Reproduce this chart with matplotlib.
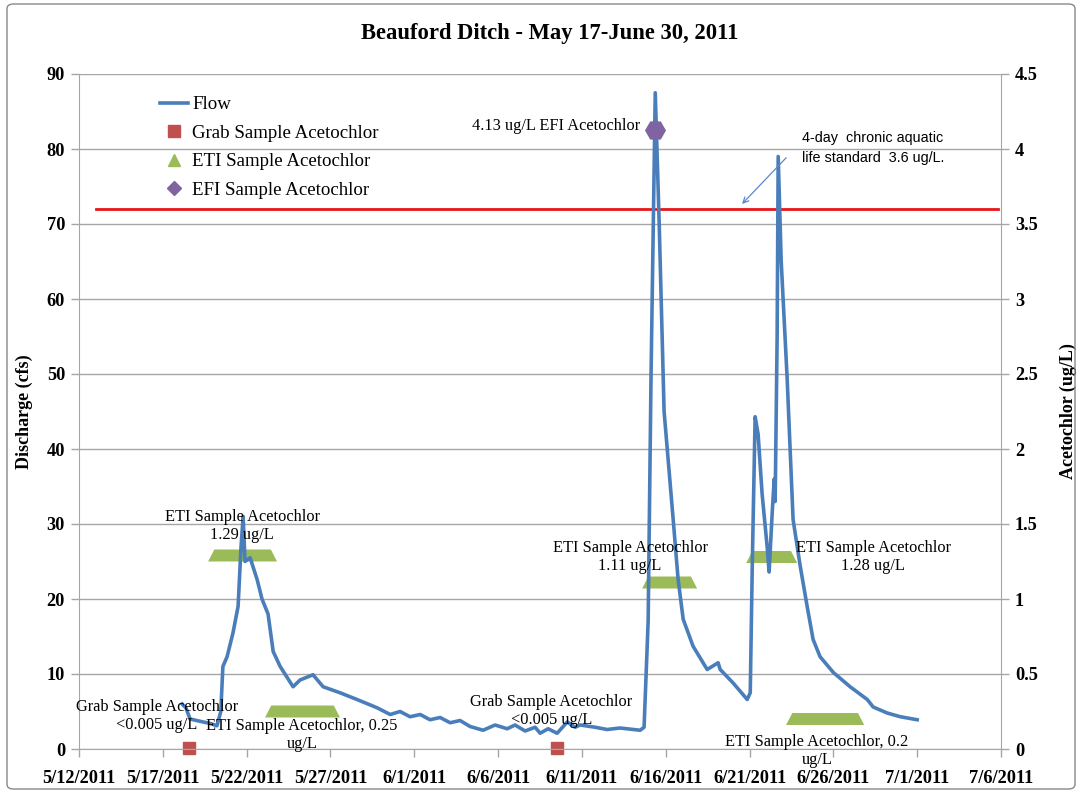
import pandas as pd
import matplotlib
matplotlib.use("Agg")
import matplotlib.pyplot as plt
from matplotlib.patches import Polygon, FancyBboxPatch
from matplotlib.lines import Line2D

plt.rcParams['font.family'] = ['Liberation Serif', 'DejaVu Serif']

# flow record (cfs)
flow_time = ["2011-05-18 03:30", "2011-05-18 09:00", "2011-05-18 15:00", "2011-05-19 05:00",
             "2011-05-19 20:00", "2011-05-20 05:30", "2011-05-20 11:00", "2011-05-20 14:00",
             "2011-05-20 20:00", "2011-05-21 04:30", "2011-05-21 11:45", "2011-05-21 16:00",
             "2011-05-21 19:00", "2011-05-21 21:40", "2011-05-22 05:00", "2011-05-22 15:00",
             "2011-05-22 22:00", "2011-05-23 06:40", "2011-05-23 14:00", "2011-05-24 00:00",
             "2011-05-24 18:30", "2011-05-25 04:30", "2011-05-25 23:00", "2011-05-26 13:30",
             "2011-05-27 13:40", "2011-05-28 14:00", "2011-05-29 18:40", "2011-05-30 13:30",
             "2011-05-31 03:40", "2011-05-31 18:00", "2011-06-01 08:30", "2011-06-01 22:35",
             "2011-06-02 13:00", "2011-06-03 03:20", "2011-06-03 17:30", "2011-06-04 07:55",
             "2011-06-05 02:30", "2011-06-05 19:40", "2011-06-06 13:00", "2011-06-07 00:15",
             "2011-06-07 14:40", "2011-06-08 05:00", "2011-06-08 12:15", "2011-06-08 23:35",
             "2011-06-09 12:30", "2011-06-10 03:00", "2011-06-10 14:10", "2011-06-10 21:30",
             "2011-06-11 19:00", "2011-06-12 12:00", "2011-06-13 06:40", "2011-06-14 11:20",
             "2011-06-14 17:00", "2011-06-14 22:50", "2011-06-15 03:00", "2011-06-15 09:00",
             "2011-06-15 14:40", "2011-06-15 21:40", "2011-06-16 10:40", "2011-06-16 17:45",
             "2011-06-17 01:00", "2011-06-17 15:10", "2011-06-18 11:20", "2011-06-19 03:00",
             "2011-06-19 06:00", "2011-06-20 00:30", "2011-06-20 20:40", "2011-06-21 01:00",
             "2011-06-21 04:00", "2011-06-21 08:00", "2011-06-21 12:15", "2011-06-21 18:00",
             "2011-06-22 01:10", "2011-06-22 04:00", "2011-06-22 08:30", "2011-06-22 11:20",
             "2011-06-22 12:40", "2011-06-22 15:30", "2011-06-22 17:00", "2011-06-22 21:20",
             "2011-06-23 05:50", "2011-06-23 14:20", "2011-06-24 00:30", "2011-06-24 10:30",
             "2011-06-24 19:00", "2011-06-25 05:00", "2011-06-26 00:00", "2011-06-27 00:00",
             "2011-06-28 00:30", "2011-06-28 09:00", "2011-06-29 05:00", "2011-06-30 00:00",
             "2011-07-01 00:00"]
flow_cfs = [6.0, 5.5, 4.0, 3.7,
            3.4, 3.1, 5.0, 11.0,
            12.3, 15.5, 19.0, 27.0,
            31.0, 25.0, 25.5, 22.6,
            20.0, 18.0, 13.0, 11.0,
            8.3, 9.2, 9.9, 8.3,
            7.5, 6.6, 5.5, 4.6,
            5.0, 4.3, 4.6, 3.9,
            4.2, 3.5, 3.8, 3.0,
            2.5, 3.2, 2.7, 3.2,
            2.4, 2.9, 2.1, 2.7,
            2.1, 3.6, 2.9, 3.2,
            2.9, 2.6, 2.8, 2.5,
            2.9, 17.0, 50.0, 87.5,
            70.0, 45.0, 30.6, 22.6,
            17.3, 13.7, 10.6, 11.5,
            10.6, 8.8, 6.6, 7.5,
            25.0, 44.3, 42.0, 34.0,
            27.0, 23.6, 31.6, 36.0,
            33.0, 55.0, 79.0, 65.0,
            49.4, 30.6, 24.4, 19.0,
            14.6, 12.3, 10.2, 8.3,
            6.6, 5.6, 4.8, 4.3,
            3.9]

# samples (ug/L)
grab_time = ["2011-05-18 13:30", "2011-06-09 12:30"]
grab_value = [0.005, 0.005]
eti_start = ["2011-05-19 16:50", "2011-05-23 02:20", "2011-06-14 14:10", "2011-06-20 19:10", "2011-06-23 04:20"]
eti_end = ["2011-05-23 19:30", "2011-05-27 13:40", "2011-06-17 21:00", "2011-06-23 20:10", "2011-06-27 20:10"]
eti_value = [1.29, 0.25, 1.11, 1.28, 0.2]
efi_time = ["2011-06-15 09:00"]
efi_value = [4.13]
standard_value = 3.6
standard_span = ["2011-05-13 00:00", "2011-07-05 20:00"]

xtick_labels = ["5/12/2011", "5/17/2011", "5/22/2011", "5/27/2011", "6/1/2011", "6/6/2011",
                "6/11/2011", "6/16/2011", "6/21/2011", "6/26/2011", "7/1/2011", "7/6/2011"]
ytick_left = [0, 10, 20, 30, 40, 50, 60, 70, 80, 90]
ytick_right = [0, 0.5, 1, 1.5, 2, 2.5, 3, 3.5, 4, 4.5]
ytick_right_labels = ["0", "0.5", "1", "1.5", "2", "2.5", "3", "3.5", "4", "4.5"]

blue = "#4A7EBB"
green = "#9BBB59"
red_mk = "#C0504D"
purple = "#8064A2"
grid_c = "#A6A6A6"

flow_t = pd.to_datetime(flow_time)
xt = pd.to_datetime(xtick_labels, format="%m/%d/%Y")

fig = plt.figure(figsize=(10.81, 7.93), dpi=100)
fig.patches.append(FancyBboxPatch((7 / 1081, 4 / 793), 1068 / 1081, 785 / 793,
                                  boxstyle="round,pad=0,rounding_size=0.006",
                                  transform=fig.transFigure, fill=False,
                                  edgecolor="#888888", lw=1))
ax = fig.add_axes([79 / 1081, 1 - 749 / 793, 922 / 1081, 675 / 793])
ax2 = ax.twinx()
ax.set_zorder(ax2.get_zorder() + 1)
ax.patch.set_visible(False)

ax.set_xlim(xt[0], xt[-1])
ax.set_ylim(0, 90)
ax2.set_ylim(0, 4.5)

# standard line, samples on the secondary axis
st = pd.to_datetime(standard_span)
ax2.plot(st, [standard_value, standard_value], color="#E8161B", lw=2)
ax2.plot(pd.to_datetime(grab_time), grab_value, ls="none", marker="s", ms=8.5,
         color=red_mk, clip_on=False)
h = 0.04
for s, e, v in zip(pd.to_datetime(eti_start), pd.to_datetime(eti_end), eti_value):
    x0 = matplotlib.dates.date2num(s)
    x1 = matplotlib.dates.date2num(e)
    inset = 0.37
    ax2.add_patch(Polygon([(x0, v - h), (x1, v - h), (x1 - inset, v + h), (x0 + inset, v + h)],
                          closed=True, facecolor=green, edgecolor="none"))

ax.plot(flow_t, flow_cfs, color=blue, lw=2.6, solid_joinstyle="round")
ax.plot(pd.to_datetime(efi_time), efi_value, ls="none", marker="H", ms=14,
        color=purple, transform=ax2.transData)

# axes styling
ax.set_yticks(ytick_left)
ax2.set_yticks(ytick_right)
ax2.set_yticklabels(ytick_right_labels)
ax.set_xticks(xt)
ax.set_xticklabels(xtick_labels)
ax.yaxis.grid(True, color=grid_c, lw=1)
ax.set_axisbelow(True)
for a in (ax, ax2):
    for sp in a.spines.values():
        sp.set_visible(False)
ax.spines["left"].set_visible(True)
ax.spines["left"].set_color(grid_c)
ax.spines["bottom"].set_visible(True)
ax.spines["bottom"].set_color(grid_c)
ax2.spines["right"].set_visible(True)
ax2.spines["right"].set_color(grid_c)
ax.tick_params(axis="both", colors=grid_c, length=6, width=1, labelcolor="black",
               labelsize=13.2, pad=4)
ax.tick_params(axis="x", pad=9)
ax2.tick_params(axis="y", colors=grid_c, length=6, width=1, labelcolor="black",
                labelsize=13.2, pad=4)
for lab in ax.get_xticklabels() + ax.get_yticklabels() + ax2.get_yticklabels():
    lab.set_fontweight("bold")

ax.set_ylabel("Discharge (cfs)", fontsize=13, fontweight="bold", labelpad=10)
ax2.set_ylabel("Acetochlor (ug/L)", fontsize=13, fontweight="bold", labelpad=16)
fig.text(550 / 1081, 1 - 33 / 793, "Beauford Ditch - May 17-June 30, 2011",
         ha="center", va="center", fontsize=16.3, fontweight="bold")

# legend
handles = [Line2D([], [], color=blue, lw=2.6),
           Line2D([], [], ls="none", marker="s", ms=8, color=red_mk),
           Line2D([], [], ls="none", marker="^", ms=9, color=green),
           Line2D([], [], ls="none", marker="D", ms=7, color=purple)]
ax.legend(handles, ["Flow", "Grab Sample Acetochlor", "ETI Sample Acetochlor", "EFI Sample Acetochlor"],
          loc="upper left", bbox_to_anchor=(64 / 922, 1 - 5 / 675), frameon=False,
          fontsize=13.6, handlelength=1.5, handletextpad=0.2, labelspacing=0.6)

# annotations
def d(s):
    return pd.Timestamp(s)

fs = 11.8
ax.text(d("2011-06-14 11:20"), 83, "4.13 ug/L EFI Acetochlor", ha="right", va="center", fontsize=fs)
ax.text(d("2011-06-24 03:20"), 80.1, "4-day  chronic aquatic\nlife standard  3.6 ug/L.",
        ha="left", va="center", fontsize=10.4, family=["Liberation Sans"], linespacing=1.55)
ax.annotate("", xy=(d("2011-06-20 10:30"), 72.4), xytext=(d("2011-06-23 07:10"), 79.1),
            arrowprops=dict(arrowstyle="->", color="#5B87C5", lw=0.9))
ax.text(d("2011-05-21 17:30"), 29.7, "ETI Sample Acetochlor\n1.29 ug/L", ha="center", va="center", fontsize=fs)
ax.text(d("2011-05-16 15:40"), 4.4, "Grab Sample Acetochlor\n<0.005 ug/L", ha="center", va="center", fontsize=fs)
ax.text(d("2011-05-25 07:15"), 1.9, "ETI Sample Acetochlor, 0.25\nug/L", ha="center", va="center", fontsize=fs)
ax.text(d("2011-06-09 04:00"), 5.1, "Grab Sample Acetochlor\n<0.005 ug/L", ha="center", va="center", fontsize=fs)
ax.text(d("2011-06-13 21:00"), 25.6, "ETI Sample Acetochlor\n1.11 ug/L", ha="center", va="center", fontsize=fs)
ax.text(d("2011-06-28 09:00"), 25.6, "ETI Sample Acetochlor\n1.28 ug/L", ha="center", va="center", fontsize=fs)
ax.text(d("2011-06-25 00:45"), -0.3, "ETI Sample Acetochlor, 0.2\nug/L", ha="center", va="center", fontsize=fs)

fig.savefig("out.png", dpi=100)
